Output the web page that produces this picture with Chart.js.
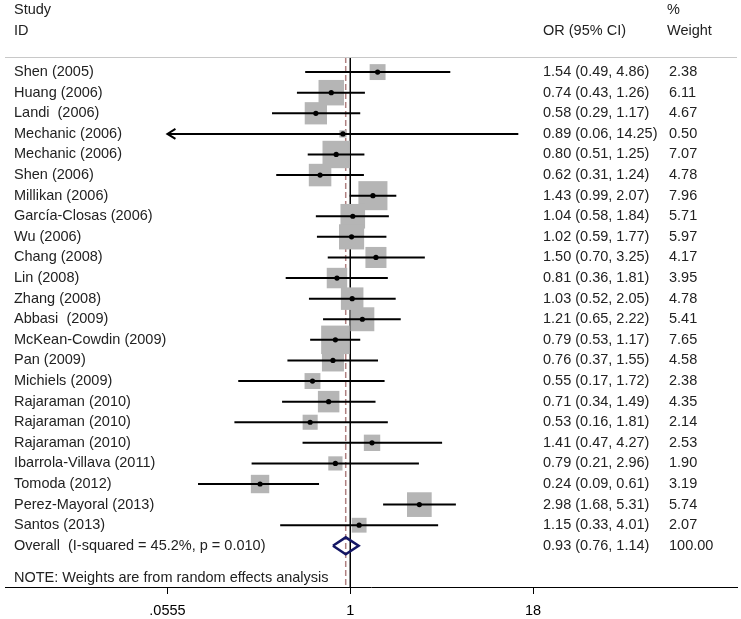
<!doctype html>
<html>
<head>
    <meta charset="utf-8">
    <title>Forest plot</title>
    <script src="https://cdn.jsdelivr.net/npm/chart.js@4.4.1/dist/chart.umd.min.js"></script>
    <style>
        body { margin: 0; background: #fff; }
    </style>
</head>
<body>
    <canvas id="myChart" width="741" height="619"></canvas>
    <script>
    // study data
    var studies = ['Shen (2005)', 'Huang (2006)', 'Landi  (2006)', 'Mechanic (2006)', 'Mechanic (2006)',
        'Shen (2006)', 'Millikan (2006)', 'García-Closas (2006)', 'Wu (2006)', 'Chang (2008)', 'Lin (2008)',
        'Zhang (2008)', 'Abbasi  (2009)', 'McKean-Cowdin (2009)', 'Pan (2009)', 'Michiels (2009)',
        'Rajaraman (2010)', 'Rajaraman (2010)', 'Rajaraman (2010)', 'Ibarrola-Villava (2011)',
        'Tomoda (2012)', 'Perez-Mayoral (2013)', 'Santos (2013)'];
    var oddsRatio = [1.54, 0.74, 0.58, 0.89, 0.80, 0.62, 1.43, 1.04, 1.02, 1.50, 0.81, 1.03, 1.21, 0.79, 0.76, 0.55, 0.71, 0.53, 1.41, 0.79, 0.24, 2.98, 1.15];
    var ciLow = [0.49, 0.43, 0.29, 0.0553, 0.51, 0.31, 0.99, 0.58, 0.59, 0.70, 0.36, 0.52, 0.65, 0.53, 0.37, 0.17, 0.34, 0.16, 0.47, 0.21, 0.09, 1.68, 0.33];
    var ciHigh = [4.86, 1.26, 1.17, 14.25, 1.25, 1.24, 2.07, 1.84, 1.77, 3.25, 1.81, 2.05, 2.22, 1.17, 1.55, 1.72, 1.49, 1.81, 4.27, 2.96, 0.61, 5.31, 4.01];
    var weights = [2.38, 6.11, 4.67, 0.50, 7.07, 4.78, 7.96, 5.71, 5.97, 4.17, 3.95, 4.78, 5.41, 7.65, 4.58, 2.38, 4.35, 2.14, 2.53, 1.90, 3.19, 5.74, 2.07];

    // pooled estimate
    var overallLabel = 'Overall  (I-squared = 45.2%, p = 0.010)';
    var overallOR = 0.93;
    var overallLow = 0.76;
    var overallHigh = 1.14;
    var overallWeight = 100;

    var noteText = 'NOTE: Weights are from random effects analysis';
    var xTicks = [0.0555, 1, 18];
    var xTickLabels = ['.0555', '1', '18'];

    // rows: -3/-2 header, 0..22 studies, 23 overall
    var overallRow = studies.length;
    var noteRow = 24.55;
    var headerLineRow = -0.73;
    var font = '14.5px "Liberation Sans", Arial, sans-serif';
    var textColor = '#222';

    var datasets = [];

    // reference line at 1 and dashed line at the pooled estimate
    datasets.push({
        data: [{x: 1, y: headerLineRow}, {x: 1, y: 25}],
        showLine: true, borderColor: '#000', borderWidth: 1, pointRadius: 0, order: 10
    });
    datasets.push({
        data: [{x: overallOR, y: headerLineRow}, {x: overallOR, y: 25}],
        showLine: true, borderColor: 'rgb(176,128,128)', borderWidth: 1.5, borderDash: [6, 3], pointRadius: 0, order: 9
    });

    // weight boxes, area proportional to weight
    datasets.push({
        data: oddsRatio.map(function(v, i) { return {x: v, y: i}; }),
        pointStyle: 'rect',
        pointRadius: weights.map(function(w) { return 10.3 * Math.sqrt(w) / Math.SQRT2; }),
        backgroundColor: 'rgb(181,181,181)', borderWidth: 0, order: 8
    });

    // confidence interval lines
    studies.forEach(function(s, i) {
        datasets.push({
            data: [{x: Math.max(ciLow[i], xTicks[0]), y: i}, {x: Math.min(ciHigh[i], xTicks[2]), y: i}],
            showLine: true, borderColor: '#000', borderWidth: 2, pointRadius: 0, order: 7
        });
    });

    // pooled diamond
    var dh = 0.41;
    datasets.push({
        data: [{x: overallLow, y: overallRow}, {x: overallOR, y: overallRow - dh}, {x: overallHigh, y: overallRow},
            {x: overallOR, y: overallRow + dh}, {x: overallLow, y: overallRow}],
        showLine: true, borderColor: 'rgb(20,22,100)', borderWidth: 2.5, pointRadius: 0, order: 6
    });

    // point estimates
    datasets.push({
        data: oddsRatio.map(function(v, i) { return {x: v, y: i}; }),
        pointRadius: 2.6, backgroundColor: '#000', borderWidth: 0, order: 1
    });

    var textPlugin = {
        id: 'forestText',
        afterDraw: function(chart) {
            var ctx = chart.ctx;
            var xs = chart.scales.x;
            var ys = chart.scales.y;
            var area = chart.chartArea;
            ctx.save();

            // header rule
            ctx.strokeStyle = 'rgb(200,200,200)';
            ctx.lineWidth = 1;
            ctx.beginPath();
            ctx.moveTo(area.left, Math.round(ys.getPixelForValue(headerLineRow)) + 0.5);
            ctx.lineTo(area.right, Math.round(ys.getPixelForValue(headerLineRow)) + 0.5);
            ctx.stroke();

            // arrows where the interval runs past the axis
            ctx.strokeStyle = '#000';
            ctx.lineWidth = 2;
            studies.forEach(function(s, i) {
                if (ciLow[i] < xTicks[0]) {
                    var px = xs.getPixelForValue(xTicks[0]);
                    var py = ys.getPixelForValue(i);
                    ctx.beginPath();
                    ctx.moveTo(px + 8, py - 5);
                    ctx.lineTo(px, py);
                    ctx.lineTo(px + 8, py + 5);
                    ctx.stroke();
                }
            });

            ctx.font = font;
            ctx.fillStyle = textColor;
            ctx.textBaseline = 'middle';
            ctx.textAlign = 'left';
            ctx.fillText('Study', 14, ys.getPixelForValue(-3));
            ctx.fillText('ID', 14, ys.getPixelForValue(-2));
            ctx.fillText('%', 667, ys.getPixelForValue(-3));
            ctx.fillText('OR (95% CI)', 543, ys.getPixelForValue(-2));
            ctx.fillText('Weight', 667, ys.getPixelForValue(-2));

            studies.forEach(function(s, i) {
                var py = ys.getPixelForValue(i);
                ctx.fillText(s, 14, py);
                ctx.fillText(oddsRatio[i].toFixed(2) + ' (' + ciLow[i].toFixed(2) + ', ' + ciHigh[i].toFixed(2) + ')', 543, py);
                ctx.fillText(weights[i].toFixed(2), 669, py);
            });

            var oy = ys.getPixelForValue(overallRow);
            ctx.fillText(overallLabel, 14, oy);
            ctx.fillText(overallOR.toFixed(2) + ' (' + overallLow.toFixed(2) + ', ' + overallHigh.toFixed(2) + ')', 543, oy);
            ctx.fillText(overallWeight.toFixed(2), 669, oy);

            ctx.fillText(noteText, 14, ys.getPixelForValue(noteRow));
            ctx.restore();
        }
    };

    var ctx = document.getElementById('myChart').getContext('2d');
    new Chart(ctx, {
        type: 'scatter',
        data: { datasets: datasets },
        options: {
            responsive: false,
            animation: false,
            devicePixelRatio: 1,
            events: [],
            layout: { autoPadding: false, padding: { left: 5, right: 4, top: 0, bottom: 0 } },
            plugins: { legend: { display: false }, tooltip: { enabled: false } },
            scales: {
                x: {
                    type: 'logarithmic',
                    min: 0.004253,
                    max: 452.5,
                    afterBuildTicks: function(axis) {
                        axis.ticks = xTicks.map(function(v) { return {value: v}; });
                    },
                    afterFit: function(axis) { axis.height = 32; },
                    ticks: {
                        autoSkip: false,
                        maxRotation: 0,
                        padding: 8,
                        color: '#000',
                        font: { family: '"Liberation Sans", Arial, sans-serif', size: 14.5 },
                        callback: function(value, index) { return xTickLabels[index]; }
                    },
                    grid: { display: true, drawOnChartArea: false, drawTicks: true, tickLength: 7, color: '#000' },
                    border: { display: true, color: '#000', width: 1 }
                },
                y: {
                    display: false,
                    reverse: true,
                    min: -3.5,
                    max: 25
                }
            }
        },
        plugins: [textPlugin]
    });
    </script>
</body>
</html>
